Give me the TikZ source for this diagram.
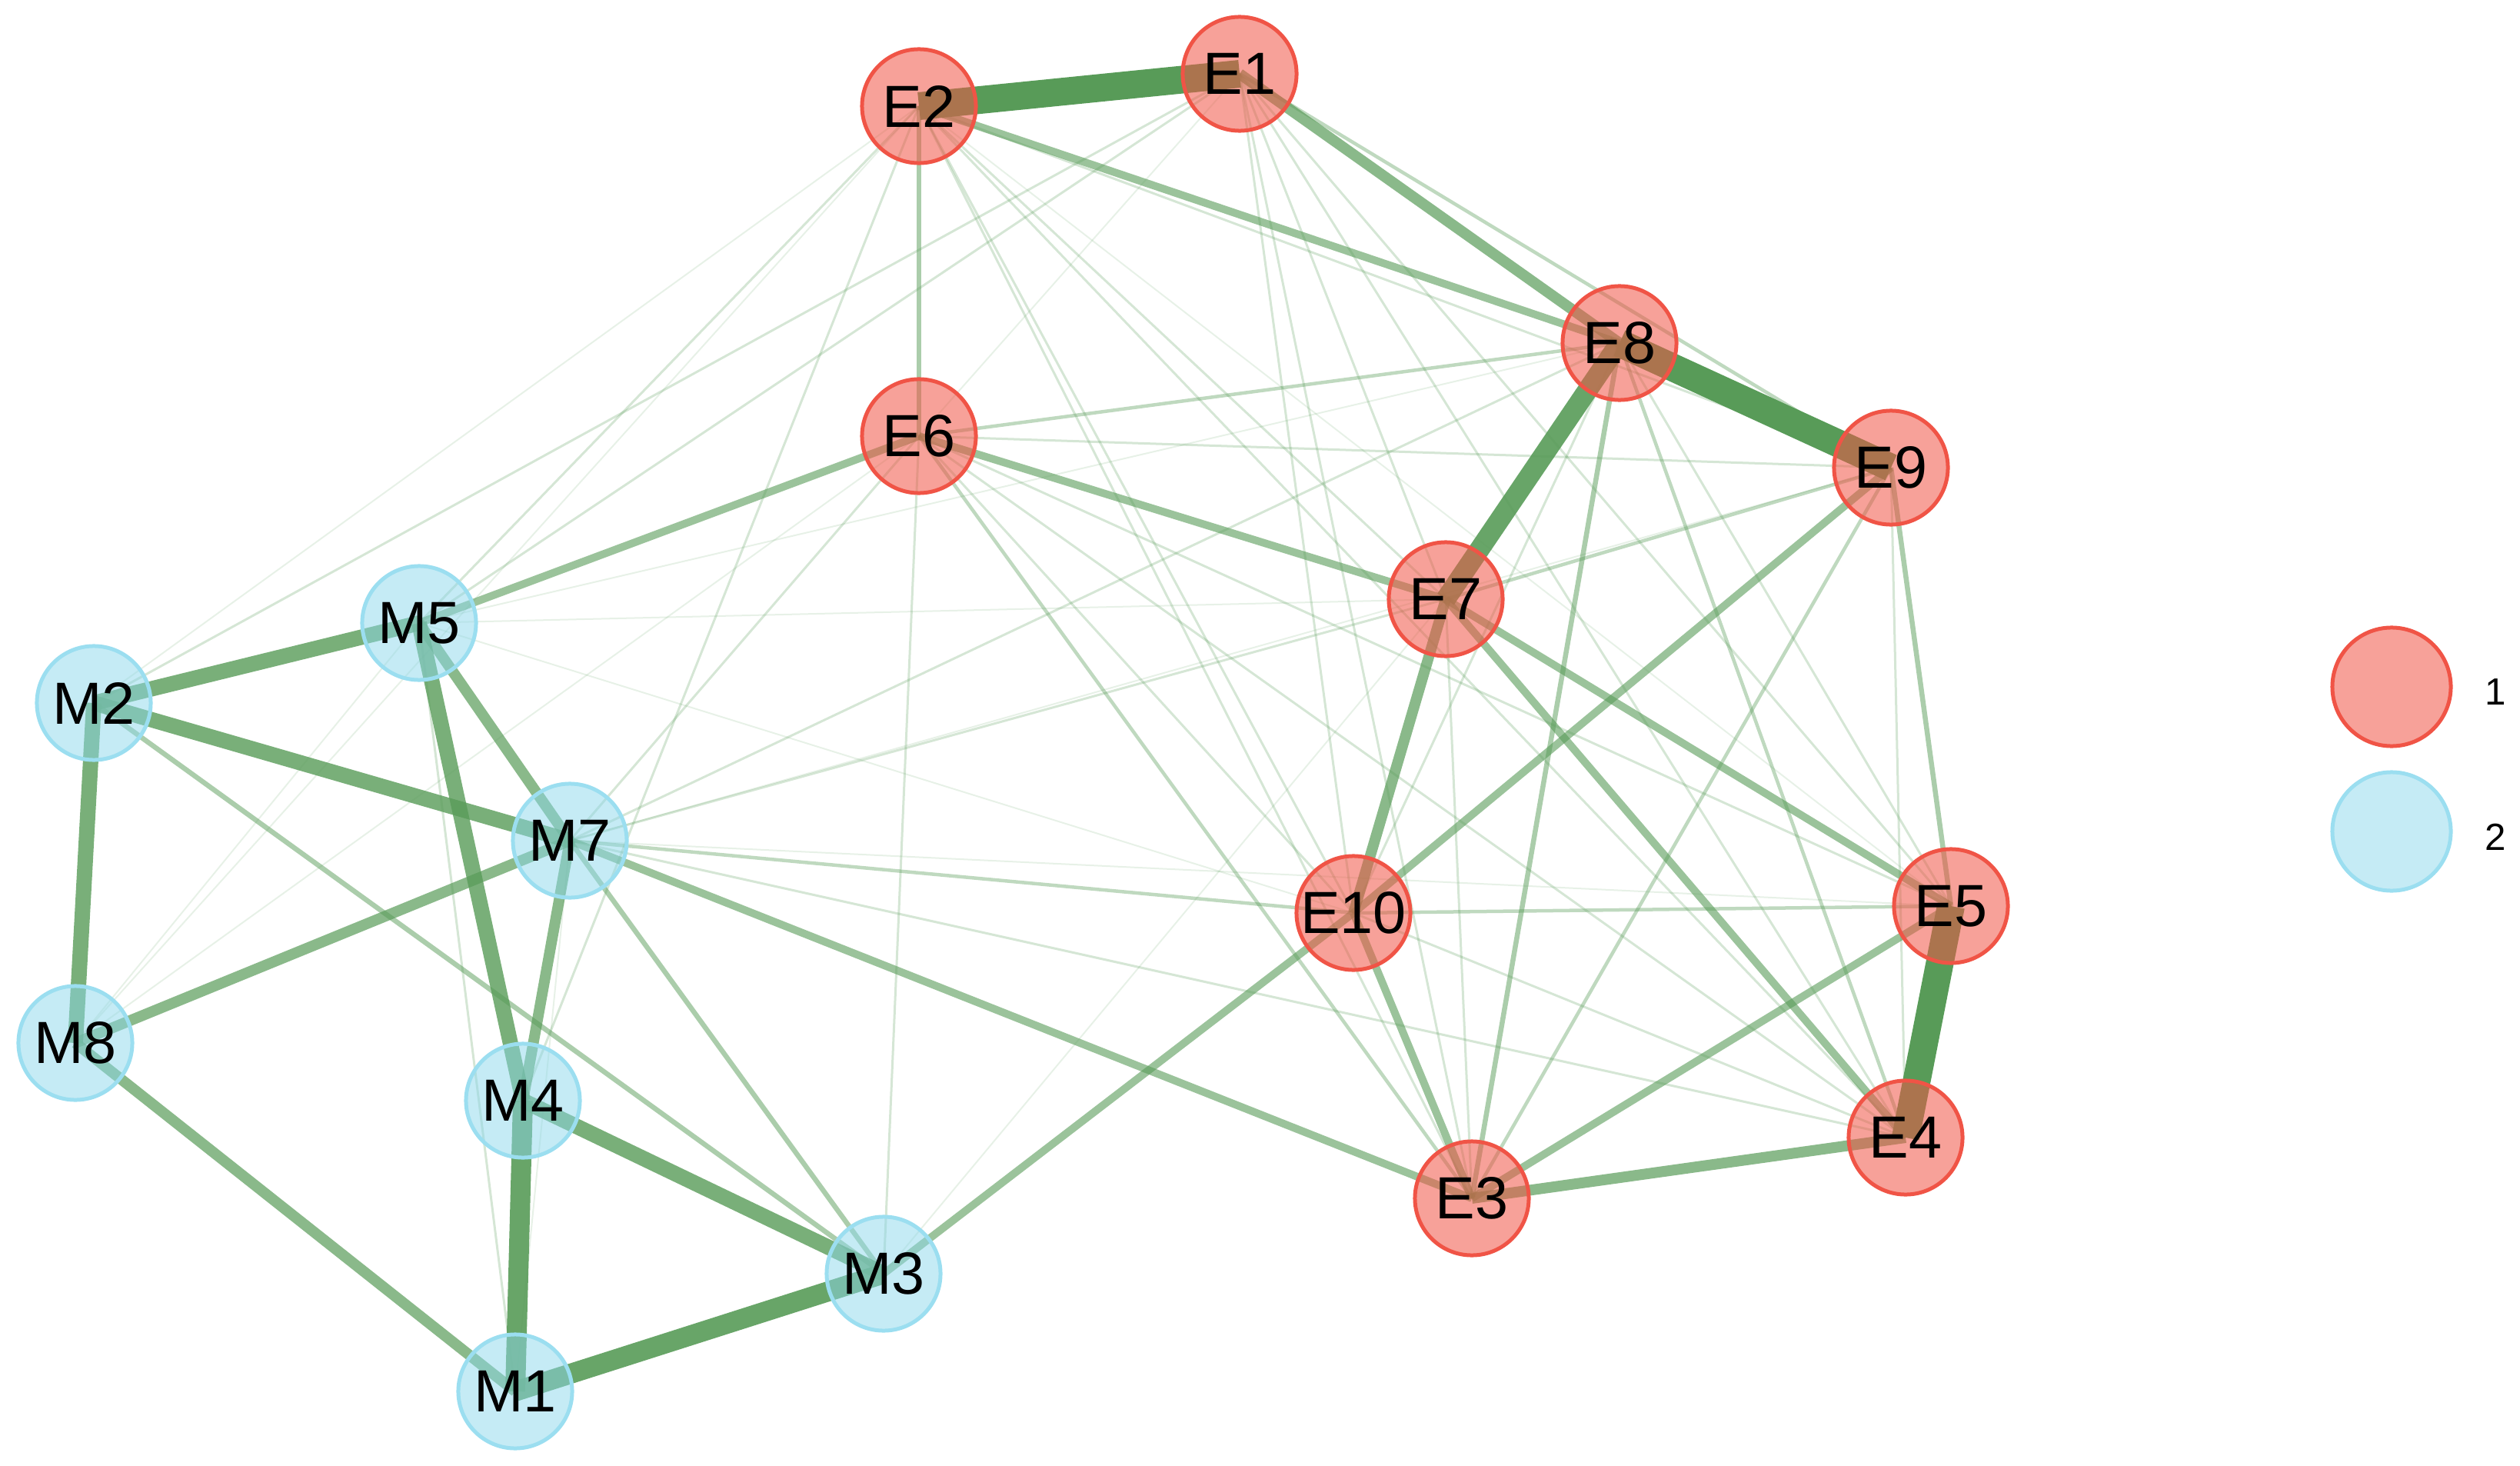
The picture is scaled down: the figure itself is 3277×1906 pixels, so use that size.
\documentclass[tikz,border=0pt]{standalone}
\usepackage{fontspec}
\setmainfont{Liberation Sans}

\pgfdeclarelayer{edges}
\pgfsetlayers{edges,main}

\definecolor{eRed}{RGB}{240,84,70}
\definecolor{mBlue}{RGB}{140,215,235}
\definecolor{mBorder}{RGB}{155,222,240}
\definecolor{edgeGreen}{RGB}{88,155,88}

\tikzset{
  vertex/.style={circle, minimum size=1.48cm, inner sep=0pt, line width=0.05cm,
    text opacity=1, font=\fontsize{22}{26}\selectfont},
  enode/.style={vertex, draw=eRed, fill=eRed, fill opacity=0.55},
  mnode/.style={vertex, draw=mBorder, fill=mBlue, fill opacity=0.5},
  link/.style={draw=edgeGreen, line cap=butt},
  wA/.style={link, line width=0.36cm, draw opacity=1},
  wB/.style={link, line width=0.26cm, draw opacity=0.9},
  wC/.style={link, line width=0.20cm, draw opacity=0.8},
  wD/.style={link, line width=0.14cm, draw opacity=0.7},
  wE/.style={link, line width=0.10cm, draw opacity=0.6},
  wF/.style={link, line width=0.065cm, draw opacity=0.5},
  wG/.style={link, line width=0.045cm, draw opacity=0.38},
  wH/.style={link, line width=0.03cm, draw opacity=0.25},
  wI/.style={link, line width=0.02cm, draw opacity=0.14}
}

\begin{document}
\begin{tikzpicture}[x=0.01cm, y=-0.01cm]
    \useasboundingbox (0,0) rectangle (3277,1906);

    % cluster 1
    \foreach \n/\x/\y in {E1/1612/96, E2/1195/138, E3/1914/1558, E4/2478/1479, E5/2537/1178,
                          E6/1195/567, E7/1880/779, E8/2106/446, E9/2459/608, E10/1760/1187} {
      \node[enode] (\n) at (\x,\y) {\n};
    }
    % cluster 2
    \foreach \n/\x/\y in {M1/670/1809, M2/122/914, M3/1149/1656, M4/680/1431,
                          M5/545/810, M7/741/1093, M8/98/1356} {
      \node[mnode] (\n) at (\x,\y) {\n};
    }

    \begin{pgfonlayer}{edges}
      \foreach \a/\b in {E1/E6, E2/E5, M7/E9, M7/E5, M5/E8, M5/E7, M2/E2, M8/M5,
                         M8/E6, M3/E7, M1/M7, M8/E2, M5/E10}
        \draw[wI] (\a.center) -- (\b.center);
      \foreach \a/\b in {E1/E7, E1/E10, E1/E3, E1/E4, E1/E5, E2/E7, E2/E10, E2/E3,
                         E2/E4, E2/E9, E6/E9, E6/E10, E6/E4, E6/E5, E8/E10, E8/E5,
                         E10/E4, E7/E3, E9/E4, M7/E4, M7/E7, M7/E8, M5/E1, M5/E2,
                         M2/E1, M4/E2, M3/E6, M1/M5, M7/E6}
        \draw[wH] (\a.center) -- (\b.center);
      \foreach \a/\b in {E10/E5, M7/E10, E6/E8, E6/E3, E1/E9, E8/E4, E7/E9, E9/E3}
        \draw[wG] (\a.center) -- (\b.center);
      \foreach \a/\b in {E5/E9, E3/E8, M2/M3, M3/M7, E2/E6}
        \draw[wF] (\a.center) -- (\b.center);
      \foreach \a/\b in {E6/E7, E9/E10, E2/E8, E3/E10, E3/E5, E5/E7, E4/E7,
                         E10/M3, E3/M7, M5/E6}
        \draw[wE] (\a.center) -- (\b.center);
      \foreach \a/\b in {M5/M7, M4/M7, M1/M8, M7/M8, E3/E4, E1/E8, E7/E10}
        \draw[wD] (\a.center) -- (\b.center);
      \foreach \a/\b in {M4/M5, M2/M5, M2/M7, M2/M8, M3/M4}
        \draw[wC] (\a.center) -- (\b.center);
      \foreach \a/\b in {E7/E8, M1/M4, M1/M3}
        \draw[wB] (\a.center) -- (\b.center);
      \foreach \a/\b in {E1/E2, E4/E5, E8/E9}
        \draw[wA] (\a.center) -- (\b.center);
    \end{pgfonlayer}

    % legend
    \node[enode, minimum size=1.54cm] (key1) at (3110,893) {};
    \node[mnode, minimum size=1.54cm] (key2) at (3110,1081) {};
    \node[font=\fontsize{14}{16}\selectfont] (key1t) at (3245,900) {1};
    \node[font=\fontsize{14}{16}\selectfont] (key2t) at (3245,1088) {2};
\end{tikzpicture}
\end{document}
